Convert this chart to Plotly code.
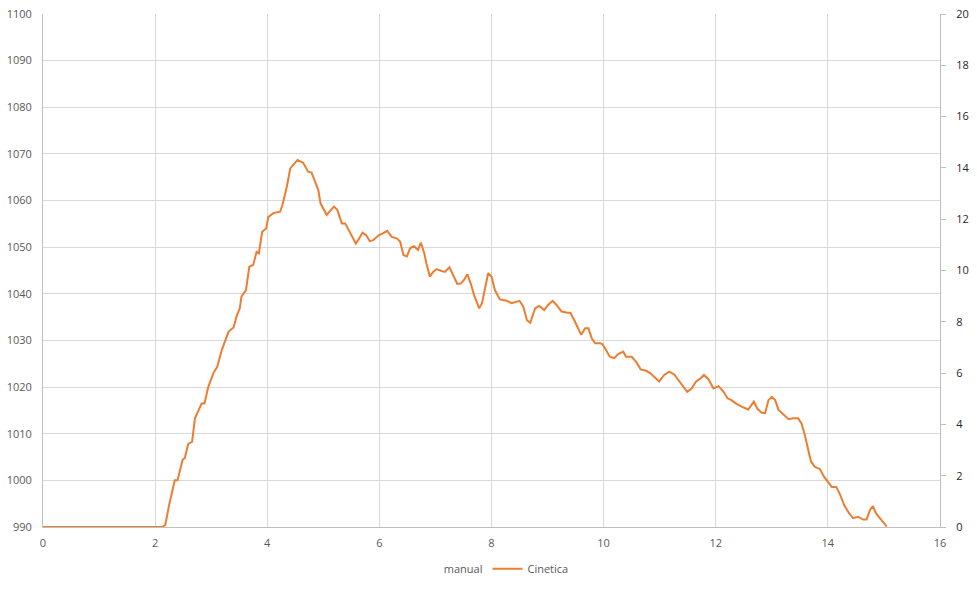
import plotly.graph_objects as go

# Cinetica series
cin_x = [0.00, 2.02, 2.12, 2.18, 2.25, 2.35, 2.40, 2.49, 2.53, 2.59, 2.66, 2.71, 2.83, 2.88, 2.95,
         3.04, 3.11, 3.19, 3.26, 3.31, 3.40, 3.45, 3.51, 3.54, 3.62, 3.68, 3.75, 3.81, 3.85, 3.91,
         3.98, 4.02, 4.11, 4.23, 4.27, 4.35, 4.41, 4.48, 4.54, 4.64, 4.73, 4.79, 4.85, 4.91, 4.95,
         5.00, 5.06, 5.12, 5.19, 5.25, 5.33, 5.39, 5.45, 5.51, 5.58, 5.62, 5.70, 5.76, 5.83, 5.89,
         5.98, 6.07, 6.14, 6.22, 6.31, 6.37, 6.43, 6.49, 6.55, 6.62, 6.69, 6.74, 6.80, 6.84, 6.90,
         6.96, 7.02, 7.11, 7.17, 7.25, 7.32, 7.39, 7.45, 7.51, 7.57, 7.63, 7.69, 7.74, 7.78, 7.83,
         7.87, 7.94, 8.00, 8.06, 8.15, 8.27, 8.36, 8.42, 8.50, 8.57, 8.63, 8.69, 8.78, 8.85, 8.94,
         9.01, 9.09, 9.16, 9.25, 9.34, 9.41, 9.49, 9.55, 9.60, 9.67, 9.73, 9.79, 9.85, 9.94, 9.98,
         10.04, 10.11, 10.19, 10.26, 10.35, 10.40, 10.50, 10.58, 10.66, 10.76, 10.83, 10.92, 10.99,
         11.08, 11.17, 11.26, 11.33, 11.42, 11.49, 11.57, 11.65, 11.73, 11.79, 11.87, 11.96, 12.05,
         12.14, 12.21, 12.28, 12.37, 12.46, 12.58, 12.64, 12.68, 12.74, 12.82, 12.88, 12.94, 13.00,
         13.06, 13.12, 13.21, 13.30, 13.38, 13.47, 13.53, 13.59, 13.65, 13.70, 13.77, 13.86, 13.93,
         14.01, 14.07, 14.15, 14.22, 14.29, 14.38, 14.45, 14.54, 14.63, 14.69, 14.75, 14.80, 14.86,
         14.93, 14.99, 15.05]
cin_y = [990.0, 990.0, 990.0, 990.4, 994.7, 1000.0, 1000.0, 1004.4, 1004.8, 1007.8, 1008.3, 1013.3, 1016.5, 1016.5, 1020.1,
         1023.0, 1024.4, 1028.0, 1030.1, 1031.9, 1032.8, 1035.1, 1036.9, 1039.4, 1040.8, 1045.8, 1046.2, 1049.0, 1048.7, 1053.3,
         1054.0, 1056.5, 1057.3, 1057.6, 1059.0, 1063.0, 1066.9, 1068.0, 1068.7, 1068.1, 1066.2, 1066.0, 1064.0, 1062.3, 1059.4,
         1058.3, 1056.9, 1057.8, 1058.7, 1058.0, 1055.1, 1055.1, 1053.7, 1052.2, 1050.8, 1051.5, 1053.1, 1052.6, 1051.3, 1051.5,
         1052.5, 1053.0, 1053.5, 1052.2, 1051.9, 1051.2, 1048.3, 1048.0, 1049.8, 1050.2, 1049.4, 1051.0, 1048.7, 1046.5, 1043.7,
         1044.7, 1045.3, 1044.9, 1044.7, 1045.7, 1044.0, 1042.1, 1042.2, 1043.0, 1044.2, 1042.2, 1039.7, 1038.0, 1036.9, 1038.0,
         1040.5, 1044.4, 1043.7, 1040.8, 1038.8, 1038.5, 1038.0, 1038.2, 1038.5, 1037.2, 1034.4, 1033.8, 1036.9, 1037.4, 1036.5,
         1037.6, 1038.5, 1037.6, 1036.2, 1036.0, 1035.9, 1034.0, 1032.6, 1031.2, 1032.6, 1032.6, 1030.4, 1029.4, 1029.4, 1029.2,
         1028.0, 1026.5, 1026.2, 1027.1, 1027.6, 1026.5, 1026.5, 1025.4, 1023.8, 1023.5, 1023.0, 1021.9, 1021.2,
         1022.6, 1023.3, 1022.7, 1021.5, 1020.0, 1019.0, 1019.7, 1021.2, 1021.9, 1022.6, 1021.7, 1019.7, 1020.2,
         1019.0, 1017.6, 1017.2, 1016.4, 1015.8, 1015.2, 1016.2, 1016.9, 1015.4, 1014.5, 1014.4, 1017.2, 1017.9,
         1017.2, 1015.1, 1014.0, 1013.1, 1013.3, 1013.3, 1012.2, 1009.7, 1006.5, 1004.0, 1002.9, 1002.4, 1000.8,
         999.4, 998.6, 998.6, 996.9, 994.7, 992.9, 991.9, 992.2, 991.6, 991.6, 993.6, 994.5, 992.9,
         991.9, 990.9, 990.1]

# "manual" series has no visible data
manual_x = [None]
manual_y = [None]

x_ticks = [0, 2, 4, 6, 8, 10, 12, 14, 16]
left_ticks = [990, 1000, 1010, 1020, 1030, 1040, 1050, 1060, 1070, 1080, 1090, 1100]
right_ticks = [0, 2, 4, 6, 8, 10, 12, 14, 16, 18, 20]

FONT = "Open Sans"
GRID = "#d9d9d9"
AXIS = "#bfbfbf"

fig = go.Figure()
fig.add_trace(go.Scatter(x=manual_x, y=manual_y, name="manual", mode="lines",
                         line=dict(color="rgba(0,0,0,0)", width=2)))
fig.add_trace(go.Scatter(x=cin_x, y=cin_y, name="Cinetica", mode="lines",
                         line=dict(color="#ED7D31", width=2)))
# invisible trace to activate the right axis
fig.add_trace(go.Scatter(x=[None], y=[None], yaxis="y2", showlegend=False, hoverinfo="skip"))

fig.update_layout(
    width=977, height=590,
    margin=dict(l=43, r=37, t=14, b=63, autoexpand=False),
    paper_bgcolor="white", plot_bgcolor="white",
    font=dict(family=FONT, size=11, color="#595959"),
    xaxis=dict(range=[0, 16], tickvals=x_ticks, ticktext=[str(v) for v in x_ticks],
               showgrid=True, gridcolor=GRID, gridwidth=1,
               showline=True, linecolor=AXIS, linewidth=1, mirror=False,
               zeroline=False, ticks="", ticklabelstandoff=6, automargin=False,
               ticklabeloverflow="allow"),
    yaxis=dict(range=[990, 1100], tickvals=left_ticks, ticktext=[str(v) for v in left_ticks],
               showgrid=True, gridcolor=GRID, gridwidth=1,
               showline=True, linecolor=AXIS, linewidth=1,
               zeroline=False, ticks="", ticklabelstandoff=8, automargin=False,
               ticklabeloverflow="allow"),
    yaxis2=dict(range=[0, 20], tickvals=right_ticks, ticktext=[str(v) for v in right_ticks],
                overlaying="y", side="right", showgrid=False,
                showline=True, linecolor=AXIS, linewidth=1,
                zeroline=False, ticks="outside", ticklen=5, tickcolor=AXIS,
                tickfont=dict(color="#262626"), ticklabelstandoff=8, automargin=False,
                ticklabeloverflow="allow"),
    legend=dict(orientation="h", x=0.497, xanchor="center", y=-0.053, yanchor="top",
                font=dict(size=11, color="#595959"), bgcolor="rgba(0,0,0,0)"),
    showlegend=True,
)

fig.write_html("out.html", config={"displayModeBar": False},
               post_script="document.body.style.margin='0px';document.body.style.overflow='hidden';")
